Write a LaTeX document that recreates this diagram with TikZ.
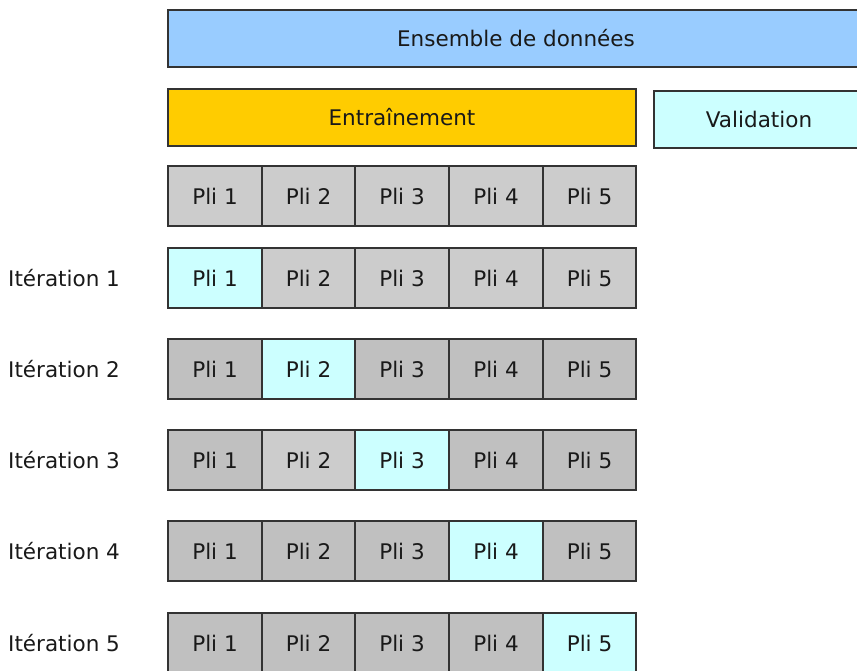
\documentclass[tikz,border=0pt]{standalone}
\usepackage{fontspec}
\setmainfont{DejaVu Sans}
\definecolor{dsblue}{HTML}{99CCFF}
\definecolor{trainor}{HTML}{FFCC00}
\definecolor{valcyan}{HTML}{CCFFFF}
\definecolor{greyA}{HTML}{CCCCCC}
\definecolor{greyB}{HTML}{C0C0C0}
\definecolor{edge}{HTML}{333333}
\newcommand{\txtsize}{\fontsize{21.5}{25}\selectfont}
\begin{document}
\begin{tikzpicture}[x=1pt,y=-1pt,
  box/.style={draw=edge,line width=1.4pt},
  txt/.style={font=\txtsize,text=black!90},
  lbl/.style={txt,anchor=west,inner sep=0pt}]
\useasboundingbox (0,0) rectangle (857,670);
\clip (0,0) rectangle (857,670);
\fill[white] (0,0) rectangle (857,670);
% top boxes
\draw[box,fill=dsblue] (168,10) rectangle (864,67);
\node[txt] (ens) at (516,38.5) {Ensemble de données};
\draw[box,fill=trainor] (168,89) rectangle (636,146);
\node[txt] (train) at (402,117.5) {Entraînement};
\draw[box,fill=valcyan] (654,91) rectangle (864,148);
\node[txt] (val) at (759,119.5) {Validation};
% rows
\def\xs{{168,262,355,449,543,636}}
\foreach \r/\top/\cols in {0/166/{A,A,A,A,A},1/248/{V,A,A,A,A},2/339/{B,V,B,B,B},3/430/{B,A,V,B,B},4/521/{B,B,B,V,B},5/613/{B,B,B,B,V}}{
  \foreach \c [count=\i from 0] in \cols {
    \pgfmathsetmacro{\xa}{\xs[\i]}
    \pgfmathsetmacro{\xb}{\xs[\i+1]}
    \pgfmathtruncatemacro{\n}{\i+1}
    \if\c V\def\cc{valcyan}\else\if\c A\def\cc{greyA}\else\def\cc{greyB}\fi\fi
    \draw[box,fill=\cc] (\xa,\top) rectangle (\xb,\top+60);
    \node[txt] (p\r\n) at ({(\xa+\xb)/2},\top+30) {Pli \n};
  }
  \ifnum\r>0
    \node[lbl] (it\r) at (8,\top+30) {Itération \r};
  \fi
}
\end{tikzpicture}
\end{document}
